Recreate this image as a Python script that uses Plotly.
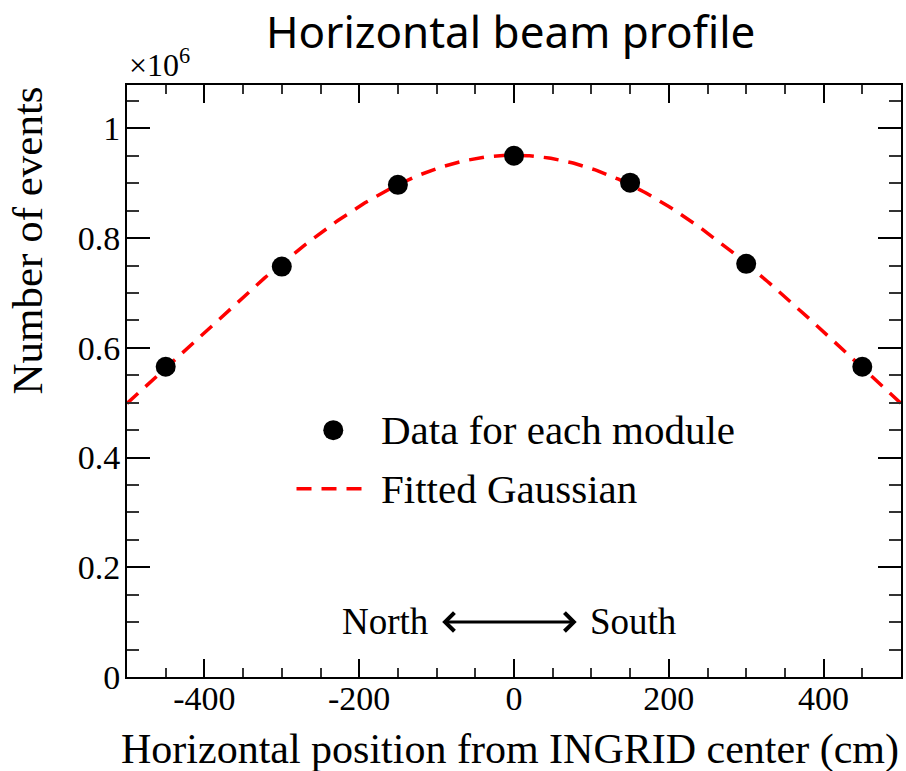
import numpy as np
import plotly.graph_objects as go

# ---- data ----
module_x_cm = [-450, -300, -150, 0, 150, 300, 450]
events_millions = [0.5655, 0.748, 0.897, 0.950, 0.901, 0.753, 0.5655]

# fitted Gaussian parameters (in units of 10^6 events, cm)
fit_amplitude = 0.951
fit_mean = 0.0
fit_sigma = 440.0

x_range = [-500, 500]
y_range = [0, 1.079]

x_tick_values = [-400, -200, 0, 200, 400]
x_tick_labels = ["-400", "-200", "0", "200", "400"]
y_tick_values = [0, 0.2, 0.4, 0.6, 0.8, 1.0]
y_tick_labels = ["0", "0.2", "0.4", "0.6", "0.8", "1"]

title_text = "Horizontal beam profile"
x_title = "Horizontal position from INGRID center (cm)"
y_title = "Number of events"
legend_labels = ["Data for each module", "Fitted Gaussian"]

curve_x = np.linspace(x_range[0], x_range[1], 401)
curve_y = fit_amplitude * np.exp(-0.5 * ((curve_x - fit_mean) / fit_sigma) ** 2)

SERIF = "Liberation Serif, Times New Roman, serif"

fig = go.Figure()
fig.add_trace(go.Scatter(
    x=curve_x, y=curve_y, mode="lines",
    line=dict(color="#ff0000", width=3.5, dash="15px,10px"),
    showlegend=False, hoverinfo="skip"))
fig.add_trace(go.Scatter(
    x=module_x_cm, y=events_millions, mode="markers",
    marker=dict(color="black", size=20),
    showlegend=False))

axis_common = dict(
    showline=True, linecolor="black", linewidth=2, mirror="allticks",
    ticks="inside", tickcolor="black", tickwidth=2,
    showgrid=False, zeroline=False,
    tickfont=dict(family=SERIF, size=34, color="black"),
)
fig.update_xaxes(range=x_range, tickmode="array", tickvals=x_tick_values,
                 ticktext=x_tick_labels, ticklen=18,
                 minor=dict(ticks="inside", dtick=50, tick0=0, ticklen=9,
                            tickcolor="#333", tickwidth=2),
                 ticklabelstandoff=-10, **axis_common)
fig.update_yaxes(range=y_range, tickmode="array", tickvals=y_tick_values,
                 ticktext=y_tick_labels, ticklen=23,
                 minor=dict(ticks="inside", dtick=0.05, tick0=0, ticklen=12,
                            tickcolor="#333", tickwidth=2),
                 ticklabelstandoff=-2, **axis_common)

annotations = [
    dict(text=title_text, xref="paper", yref="paper", x=0.495, y=1, yshift=86,
         xanchor="center", yanchor="top", showarrow=False,
         font=dict(family="Noto Sans, Open Sans, sans-serif", size=44, color="black")),
    dict(text=x_title, xref="paper", yref="paper", x=1, y=0, yshift=-47,
         xanchor="right", yanchor="top", showarrow=False,
         font=dict(family=SERIF, size=42, color="black")),
    dict(text=y_title, xref="paper", yref="paper", x=0, y=1, xshift=-126,
         xanchor="left", yanchor="top", textangle=-90, showarrow=False,
         font=dict(family=SERIF, size=43, color="black")),
    dict(text="×10<sup>6</sup>", xref="paper", yref="paper", x=0, y=1, yshift=0,
         xanchor="left", yanchor="bottom", showarrow=False,
         font=dict(family=SERIF, size=32, color="black")),
    dict(text=legend_labels[0], xref="paper", yref="paper", x=0.326, y=0.417,
         xanchor="left", yanchor="middle", showarrow=False,
         font=dict(family=SERIF, size=41, color="black")),
    dict(text=legend_labels[1], xref="paper", yref="paper", x=0.326, y=0.318,
         xanchor="left", yanchor="middle", showarrow=False,
         font=dict(family=SERIF, size=41, color="black")),
    dict(text="North", xref="paper", yref="paper", x=0.393, y=0.093,
         xanchor="right", yanchor="middle", showarrow=False,
         font=dict(family=SERIF, size=37, color="black")),
    dict(text="South", xref="paper", yref="paper", x=0.595, y=0.093,
         xanchor="left", yanchor="middle", showarrow=False,
         font=dict(family=SERIF, size=37, color="black")),
    dict(text="", xref="paper", yref="paper", x=0.581, y=0.093,
         axref="pixel", ayref="pixel", ax=-136, ay=0,
         showarrow=True, arrowhead=4, arrowside="end+start",
         arrowwidth=3, arrowsize=1.2, arrowcolor="black"),
]

shapes = [
    dict(type="circle", xref="paper", yref="paper",
         xsizemode="pixel", ysizemode="pixel", xanchor=0.2665, yanchor=0.417,
         x0=-10, x1=10, y0=-10, y1=10,
         fillcolor="black", line=dict(color="black", width=0)),
    dict(type="line", xref="paper", yref="paper",
         x0=0.219, x1=0.309, y0=0.318, y1=0.318,
         line=dict(color="#ff0000", width=3.5, dash="15px,10px")),
]

fig.update_layout(
    width=906, height=771,
    margin=dict(l=127, r=3, t=85, b=94),
    paper_bgcolor="white", plot_bgcolor="white",
    annotations=annotations, shapes=shapes,
    showlegend=False,
)

fig.write_html("out.html")
